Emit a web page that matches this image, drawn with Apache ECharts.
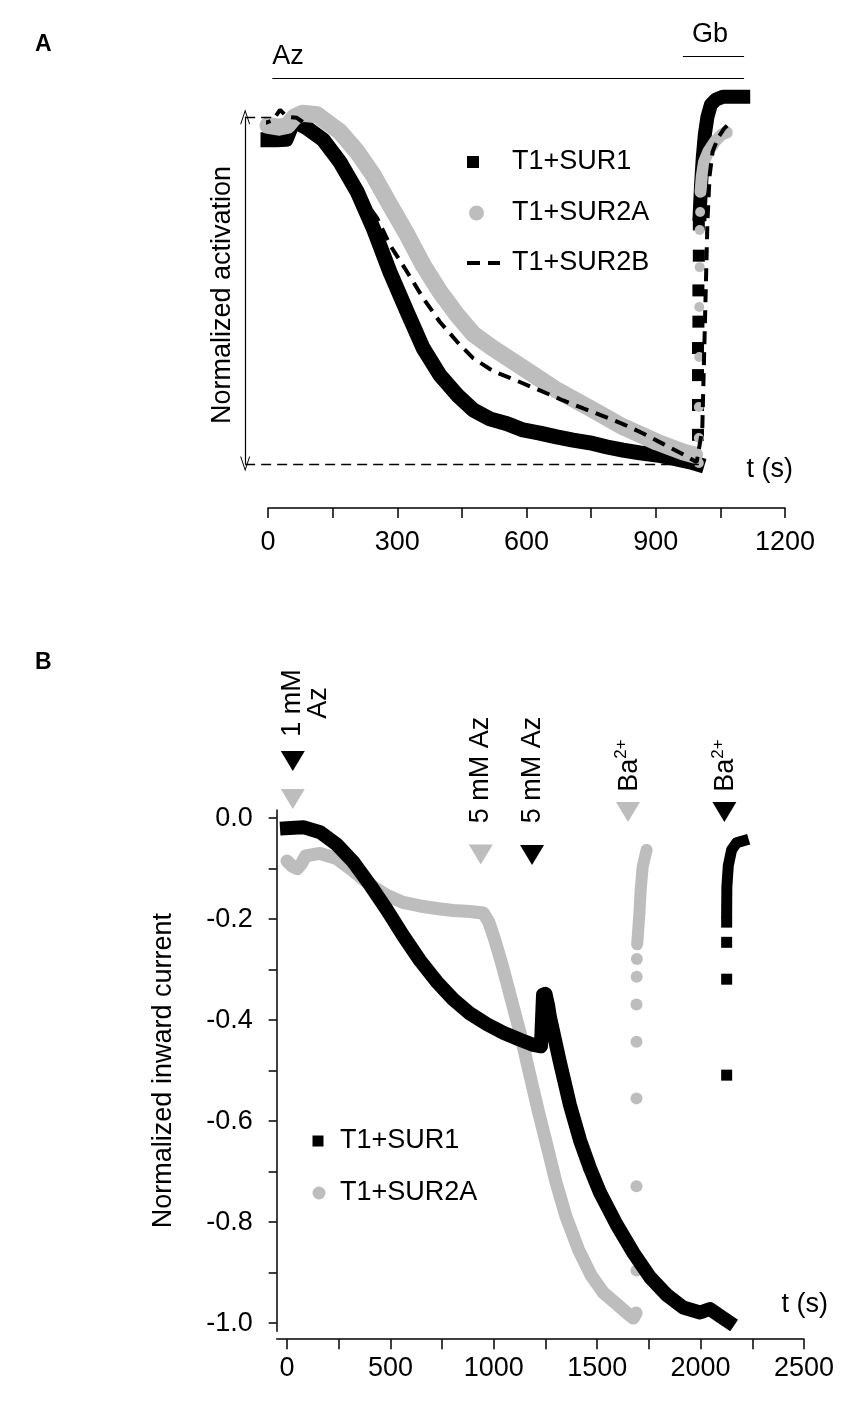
<!DOCTYPE html>
<html><head><meta charset="utf-8">
<script src="https://cdn.jsdelivr.net/npm/echarts@6/dist/echarts.min.js"></script>
<style>html,body{margin:0;padding:0;background:#fff}#c{width:864px;height:1407px}</style>
</head><body><div id="c"></div>
<script>
// ---------- Panel A data: [t (s), normalized activation] ----------
const sur1A = [[0,0.934],[20,0.934],[42,0.935],[55,0.975],[67,0.983],[90,0.968],[128,0.934],[167,0.870],[207,0.784],[244,0.680],[283,0.553],[323,0.438],[360,0.334],[399,0.256],[439,0.199],[476,0.156],[515,0.130],[555,0.116],[592,0.098],[631,0.089],[670,0.078],[708,0.069],[747,0.061],[787,0.049],[824,0.040],[863,0.032],[903,0.026],[940,0.017],[980,0.006],[996,0.0]];
const sur1AGbDots = [[998,0.084],[998,0.17],[998,0.256],[998,0.334],[999,0.41],[999,0.50],[1000,0.60],[1000,0.69]];
const sur1AGbBand = [[1002,0.72],[1005,0.80],[1009,0.88],[1014,0.95],[1020,1.00],[1028,1.035],[1040,1.05],[1056,1.058],[1080,1.058],[1103,1.058]];
const sur2aA = [[0,0.975],[25,0.97],[45,0.975],[62,1.0],[80,1.01],[114,1.006],[167,0.957],[207,0.899],[244,0.833],[283,0.746],[323,0.66],[360,0.573],[399,0.496],[439,0.429],[476,0.375],[520,0.335],[592,0.277],[670,0.213],[747,0.161],[824,0.107],[903,0.063],[963,0.035],[990,0.026]];
const sur2aAGbDots = [[1000,0.003],[1000,0.075],[1000,0.164],[1001,0.308],[1001,0.452],[1002,0.567],[1002,0.674],[1003,0.726]];
const sur2aAGbBand = [[1004,0.784],[1007,0.83],[1012,0.87],[1022,0.90],[1038,0.93],[1052,0.948],[1065,0.955]];
const sur2bA = [[-23,0.977],[0,0.985],[12,0.991],[28,1.02],[44,1.0],[67,0.997],[100,0.968],[150,0.905],[200,0.80],[253,0.709],[283,0.631],[323,0.553],[360,0.478],[399,0.409],[439,0.352],[476,0.305],[522,0.268],[577,0.240],[631,0.212],[685,0.183],[732,0.160],[778,0.138],[824,0.115],[871,0.088],[917,0.058],[963,0.028],[995,0.005],[1008,0.1],[1012,0.3],[1016,0.5],[1020,0.7],[1025,0.83],[1032,0.9],[1045,0.94],[1058,0.965],[1066,0.975]];
const xTicksA = [0,150,300,450,600,750,900,1050,1200];
const xLabelsA = [0,300,600,900,1200];

// ---------- Panel B data: [t (s), normalized inward current] ----------
const sur1B = [[0,-0.02],[79,-0.018],[160,-0.028],[240,-0.052],[321,-0.087],[401,-0.132],[482,-0.181],[562,-0.233],[643,-0.282],[724,-0.324],[804,-0.359],[885,-0.387],[966,-0.408],[1046,-0.425],[1127,-0.439],[1191,-0.449],[1228,-0.452],[1233,-0.40],[1238,-0.35],[1250,-0.348],[1262,-0.37],[1272,-0.395],[1320,-0.484],[1368,-0.568],[1417,-0.638],[1465,-0.693],[1514,-0.742],[1594,-0.805],[1675,-0.861],[1755,-0.909],[1836,-0.944],[1916,-0.969],[1997,-0.979],[2045,-0.972],[2094,-0.986],[2134,-0.997]];
const sur1BBaDots = [[2126,-0.509],[2126,-0.319],[2126,-0.246],[2126,-0.206]];
const sur1BBaBand = [[2126,-0.188],[2127,-0.136],[2134,-0.094],[2150,-0.063],[2174,-0.049],[2207,-0.045]];
const sur2aB = [[0,-0.085],[25,-0.095],[50,-0.1],[70,-0.09],[90,-0.075],[160,-0.07],[240,-0.08],[321,-0.105],[401,-0.132],[482,-0.153],[562,-0.167],[643,-0.174],[724,-0.179],[804,-0.183],[885,-0.185],[949,-0.188],[975,-0.205],[1000,-0.235],[1040,-0.29],[1085,-0.36],[1130,-0.43],[1175,-0.51],[1215,-0.58],[1255,-0.645],[1300,-0.72],[1350,-0.79],[1410,-0.855],[1470,-0.905],[1530,-0.94],[1594,-0.962],[1650,-0.982],[1675,-0.99],[1688,-0.98]];
const sur2aBBaDots = [[1690,-0.896],[1690,-0.729],[1690,-0.555],[1690,-0.443],[1690,-0.369],[1691,-0.314],[1692,-0.279]];
const sur2aBBaBand = [[1693,-0.25],[1696,-0.235],[1704,-0.189],[1710,-0.143],[1720,-0.096],[1739,-0.063]];
const xTicksB = [0,250,500,750,1000,1250,1500,1750,2000,2250,2500];
const xLabelsB = [0,500,1000,1500,2000,2500];
const yTicksB = [0,-0.1,-0.2,-0.3,-0.4,-0.5,-0.6,-0.7,-0.8,-0.9,-1.0];
const yLabelsB = [0,-0.2,-0.4,-0.6,-0.8,-1.0];

// ---------- annotations (data coordinates) ----------
const guideA = { arrowT: -53, topEndT: 12, bottomEndT: 1000 };
const barsA = [{ from: 10, to: 1105, level: 1.112 }, { from: 963, to: 1105, level: 1.174 }];
const textsA = [{ t: 10, v: 1.174, text: 'Az', align: 'left' }, { t: 1026, v: 1.236, text: 'Gb', align: 'center' }];
const arrowsB = [{ t: 28, v: 0.113, who: 'SUR1' }, { t: 28, v: 0.038, who: 'SUR2A' }, { t: 937, v: -0.072, who: 'SUR2A' }, { t: 1185, v: -0.073, who: 'SUR1' }, { t: 1649, v: 0.012, who: 'SUR2A' }, { t: 2115, v: 0.012, who: 'SUR1' }];
const textsB = [{ t: 89, v: 0.228, text: '1 mM\nAz' }, { t: 937, v: 0.095, text: '5 mM Az' }, { t: 1185, v: 0.095, text: '5 mM Az' }, { t: 1649, v: 0.104, text: '{b|Ba}{s|2+}' }, { t: 2115, v: 0.104, text: '{b|Ba}{s|2+}' }];

// ---------- styling ----------
const FONT = '"Liberation Sans", Arial, Helvetica, sans-serif';
const BLACK = '#000000', GRAY = '#bdbdbd';
const FS = 27;
const chevron = 'path://M0,10 L5,0 L10,10 L9,10 L5,2 L1,10 Z';
const dashIcon = 'path://M0,0 L13,0 L13,4 L0,4 Z M21,0 L33,0 L33,4 L21,4 Z';

const chart = echarts.init(document.getElementById('c'), null, { renderer: 'canvas' });

function band(name, data, color, size, cap, xi, z) {
  return { type: 'line', name, data, xAxisIndex: xi, yAxisIndex: xi, symbol: 'none', showSymbol: false,
    clip: false, z, silent: true,
    lineStyle: { color, width: size, join: 'round', cap, opacity: 1 }, itemStyle: { color, opacity: 1 }, emphasis: { disabled: true } };
}
function dots(name, data, color, sym, size, xi, z) {
  return { type: 'scatter', name, data, xAxisIndex: xi, yAxisIndex: xi, symbol: sym, symbolSize: size,
    clip: false, z, silent: true, itemStyle: { color, opacity: 1 }, emphasis: { disabled: true } };
}
function textSeries(items, xi, rotate) {
  return { type: 'scatter', xAxisIndex: xi, yAxisIndex: xi, clip: false, silent: true, z: 10,
    symbol: 'circle', symbolSize: 1, itemStyle: { color: 'rgba(255,255,255,0)', opacity: 1 },
    data: items.map(a => ({ value: [a.t, a.v], label: { formatter: a.text, align: a.align || 'center' } })),
    label: { show: true, position: 'inside', rotate: rotate, color: BLACK, opacity: 1, fontSize: FS, fontFamily: FONT, lineHeight: 26,
      verticalAlign: 'middle',
      rich: { b: { fontSize: FS, fontFamily: FONT, color: BLACK, lineHeight: 30, verticalAlign: 'bottom' },
              s: { fontSize: 17, fontFamily: FONT, color: BLACK, lineHeight: 20, verticalAlign: 'top' } } } };
}
const axisLineStyle = { color: BLACK, width: 1.5 };
const labelStyle = { color: BLACK, fontSize: FS, fontFamily: FONT };
function legend(name, left, centerY, icon, w, h, padLeft, color) {
  return { show: true, left, top: centerY - 15, orient: 'vertical', padding: 0, itemWidth: w, itemHeight: h,
    selectedMode: false, data: [{ name, icon, itemStyle: { color, borderWidth: 0, opacity: 1 } }],
    textStyle: { color: BLACK, fontSize: FS, fontFamily: FONT, lineHeight: 30, padding: [0, 0, 0, padLeft] } };
}
const plain = v => String(v);

const option = {
  animation: false,
  backgroundColor: '#ffffff',
  title: [
    { text: 'A', left: 35, top: 33, padding: 0, textStyle: { fontSize: 23, fontWeight: 'bold', color: BLACK, fontFamily: FONT } },
    { text: 'B', left: 35, top: 651, padding: 0, textStyle: { fontSize: 23, fontWeight: 'bold', color: BLACK, fontFamily: FONT } }
  ],
  grid: [
    { left: 268, right: 79, top: 30, bottom: 943 },
    { left: 276.66, right: 60, top: 810, bottom: 75.8 },
    { left: 242.15, right: 79, top: 30, bottom: 943 }
  ],
  xAxis: [
    { gridIndex: 0, type: 'value', min: 0, max: 1200, offset: 44, position: 'bottom',
      axisLine: { onZero: false, lineStyle: axisLineStyle }, splitLine: { show: false },
      axisTick: { customValues: xTicksA, length: 10, lineStyle: axisLineStyle },
      axisLabel: Object.assign({ customValues: xLabelsA, margin: 21, formatter: plain }, labelStyle),
      name: 't (s)', nameLocation: 'end', nameGap: 8,
      nameTextStyle: Object.assign({ align: 'right', verticalAlign: 'bottom', padding: [0, 0, 25, 0] }, labelStyle) },
    { gridIndex: 1, type: 'value', min: -50, max: 2500, offset: 8, position: 'bottom',
      axisLine: { onZero: false, lineStyle: axisLineStyle }, splitLine: { show: false },
      axisTick: { customValues: xTicksB, length: 10, lineStyle: axisLineStyle },
      axisLabel: Object.assign({ customValues: xLabelsB, margin: 16, formatter: plain }, labelStyle),
      name: 't (s)', nameLocation: 'end', nameGap: 24,
      nameTextStyle: Object.assign({ align: 'right', verticalAlign: 'bottom', padding: [0, 0, 21, 0] }, labelStyle) },
    { gridIndex: 2, type: 'value', min: -60, max: 1200, show: false }
  ],
  yAxis: [
    { gridIndex: 0, type: 'value', min: 0, max: 1.25,
      axisLine: { show: false, onZero: false }, axisTick: { show: false }, axisLabel: { show: false }, splitLine: { show: false },
      name: 'Normalized activation', nameLocation: 'middle', nameGap: 32,
      nameTextStyle: Object.assign({ padding: [0, 96, 0, 0] }, labelStyle) },
    { gridIndex: 1, type: 'value', min: -1.016, max: 0.016,
      axisLine: { onZero: false, lineStyle: axisLineStyle }, splitLine: { show: false },
      axisTick: { customValues: yTicksB, length: 8, lineStyle: axisLineStyle },
      axisLabel: Object.assign({ customValues: yLabelsB, margin: 24, formatter: v => (+v).toFixed(1) }, labelStyle),
      name: 'Normalized inward current', nameLocation: 'middle', nameGap: 100,
      nameTextStyle: labelStyle },
    { gridIndex: 2, type: 'value', min: 0, max: 1.25, show: false }
  ],
  legend: [
    legend('T1+SUR1', 467, 162, 'rect', 12, 12, 28, BLACK),
    legend('T1+SUR2A', 469, 213, 'circle', 15, 15, 23, GRAY),
    legend('T1+SUR2B', 467, 263, dashIcon, 33, 4, 7, BLACK),
    legend('T1+SUR1', 312.5, 1141, 'rect', 11, 11, 11.5, BLACK),
    legend('T1+SUR2A', 312.5, 1193, 'circle', 13, 13, 9.5, GRAY)
  ],
  series: [
    // ----- Panel A -----
    band('T1+SUR1', sur1A, BLACK, 15, 'square', 0, 2),
    band('T1+SUR1', sur1AGbBand, BLACK, 14, 'square', 0, 2),
    dots('T1+SUR1', sur1AGbDots, BLACK, 'rect', 12, 0, 2),
    band('T1+SUR2A', sur2aA, GRAY, 17, 'round', 0, 3),
    band('T1+SUR2A', sur2aAGbBand, GRAY, 12, 'round', 0, 3),
    dots('T1+SUR2A', sur2aAGbDots, GRAY, 'circle', 10, 0, 3),
    { type: 'line', name: 'T1+SUR2B', data: sur2bA, xAxisIndex: 0, yAxisIndex: 0, symbol: 'none', showSymbol: false, clip: false, z: 4, silent: true,
      color: BLACK, lineStyle: { color: BLACK, width: 4, type: [13, 8] }, itemStyle: { color: BLACK } },
    { type: 'line', name: 'guide-arrow', xAxisIndex: 2, yAxisIndex: 2, data: [[guideA.arrowT, 0]], showSymbol: false, clip: false, silent: true, z: 5,
      lineStyle: { opacity: 0 },
      markLine: { silent: true, animation: false, symbol: [chevron, chevron], symbolSize: [10, 15], label: { show: false },
        lineStyle: { color: BLACK, width: 1.2, type: 'solid' },
        data: [[{ coord: [guideA.arrowT, 0] }, { coord: [guideA.arrowT, 1] }]] } },
    { type: 'line', name: 'guide-dash', xAxisIndex: 2, yAxisIndex: 2, data: [[guideA.arrowT, 0]], showSymbol: false, clip: false, silent: true, z: 1,
      lineStyle: { opacity: 0 },
      markLine: { silent: true, animation: false, symbol: ['none', 'none'], label: { show: false },
        lineStyle: { color: BLACK, width: 1.3, type: [10, 6] },
        data: [[{ coord: [guideA.arrowT, 1] }, { coord: [guideA.topEndT, 1] }],
               [{ coord: [guideA.arrowT, 0] }, { coord: [guideA.bottomEndT, 0] }]] } },
    { type: 'line', name: 'guide-bars', xAxisIndex: 2, yAxisIndex: 2, data: [[0, 0]], showSymbol: false, clip: false, silent: true, z: 5,
      lineStyle: { opacity: 0 },
      markLine: { silent: true, animation: false, symbol: ['none', 'none'], label: { show: false },
        lineStyle: { color: BLACK, width: 1.2, type: 'solid' },
        data: barsA.map(b => [{ coord: [b.from, b.level] }, { coord: [b.to, b.level] }]) } },
    textSeries(textsA, 0, 0),
    // ----- Panel B -----
    band('T1+SUR2A', sur2aB, GRAY, 13, 'round', 1, 2),
    band('T1+SUR2A', sur2aBBaBand, GRAY, 12, 'round', 1, 2),
    dots('T1+SUR2A', sur2aBBaDots, GRAY, 'circle', 12, 1, 2),
    band('T1+SUR1', sur1B, BLACK, 14, 'square', 1, 3),
    band('T1+SUR1', sur1BBaBand, BLACK, 11, 'square', 1, 3),
    dots('T1+SUR1', sur1BBaDots, BLACK, 'rect', 11, 1, 3),
    { type: 'scatter', name: 'arrows', xAxisIndex: 1, yAxisIndex: 1, clip: false, silent: true, z: 6,
      symbol: 'triangle', symbolRotate: 180, symbolSize: [24, 20],
      data: arrowsB.map(a => ({ value: [a.t, a.v], itemStyle: { color: a.who === 'SUR1' ? BLACK : GRAY, opacity: 1 } })) },
    textSeries(textsB, 1, 90)
  ]
};
chart.setOption(option);
</script>
</body></html>
